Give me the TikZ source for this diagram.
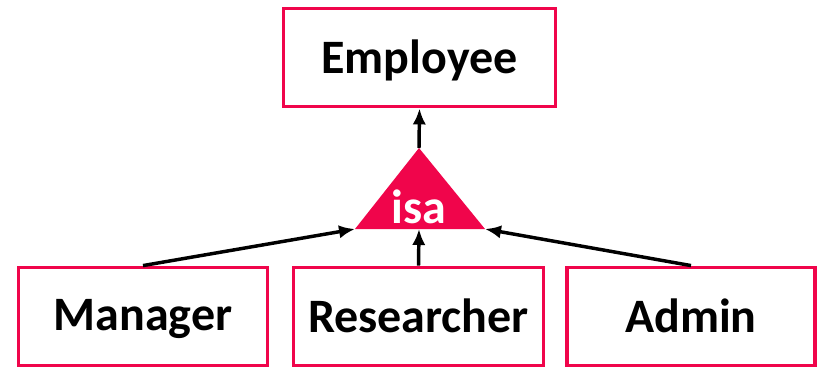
\documentclass[tikz,border=0pt]{standalone}
\usepackage{fontspec}
\setmainfont{Carlito}
\usepackage{xcolor}
\usetikzlibrary{arrows.meta}

\definecolor{isared}{RGB}{240,5,75}

\tikzset{
    entity/.style={draw=isared, line width=2.4pt, fill=white, font=\bfseries\fontsize{36}{40}\selectfont,
                   minimum height=74pt, inner sep=0pt, text depth=2pt},
    isalink/.style={line width=2.6pt, -{Latex[length=12pt,width=10pt]}}
}

\begin{document}
\begin{tikzpicture}[x=0.75pt, y=-0.75pt]
            \useasboundingbox (0,0) rectangle (817,368);

            %% superclass
            \node[entity, minimum width=204pt] (employee) at (419.5,57.5) {Employee};

            %% isa triangle
            \coordinate (isaTop)   at (419,148);
            \coordinate (isaLeft)  at (355,229);
            \coordinate (isaRight) at (485,229);
            \coordinate (isaBase)  at (419,229);
            \fill[isared] (isaTop) -- (isaLeft) -- (isaRight) -- cycle;
            \node[text=white, font=\bfseries\fontsize{36}{40}\selectfont] (isa) at (419,207) {isa};

            %% subclasses
            \node[entity, minimum width=187pt] (manager)    at (143,316.5)   {Manager};
            \node[entity, minimum width=187pt] (researcher) at (418.5,316.5) {Researcher};
            \node[entity, minimum width=186pt] (admin)      at (691,316.5)   {Admin};

            %% links
            \draw[isalink] (isaTop) -- (employee.south);
            \draw[isalink] (manager.north) -- (isaLeft);
            \draw[isalink] (researcher.north) -- (isaBase);
            \draw[isalink] (admin.north) -- (isaRight);

\end{tikzpicture}
\end{document}
